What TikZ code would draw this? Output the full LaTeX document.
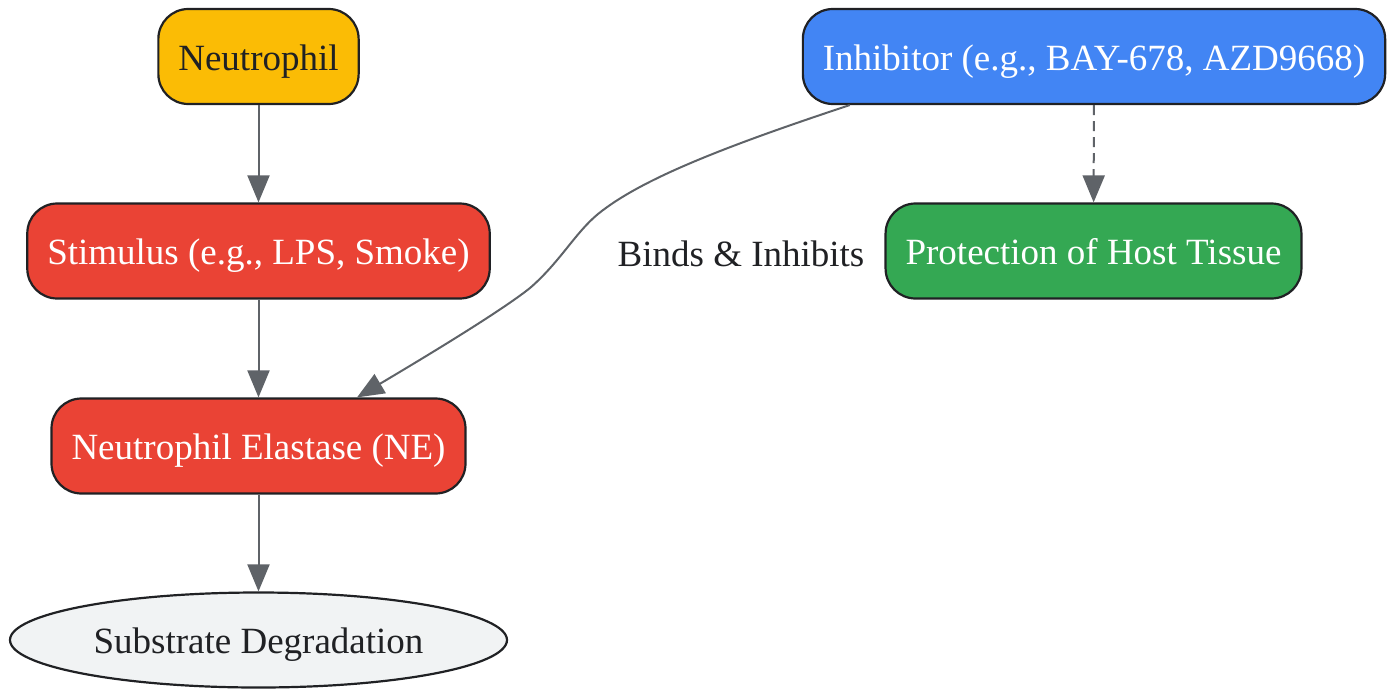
\documentclass[tikz,border=0pt]{standalone}
\usepackage{fontspec}
\setmainfont{Liberation Serif}
\usepackage{tikz}
\usetikzlibrary{shapes,arrows.meta,positioning,calc}
\definecolor{nodeyellow}{HTML}{FBBC05}
\definecolor{nodered}{HTML}{EA4335}
\definecolor{nodeblue}{HTML}{4285F4}
\definecolor{nodegreen}{HTML}{34A853}
\definecolor{nodegrey}{HTML}{F1F3F4}
\definecolor{darktext}{HTML}{202124}
\definecolor{edgegrey}{HTML}{5F6368}

\begin{document}
\begin{tikzpicture}[x=1pt,y=-1pt,
    txt/.style={font=\fontsize{37}{44}\selectfont,text height=35pt,text depth=8pt},
    box/.style={txt,draw=darktext,line width=2.2pt,rounded corners=30pt,minimum height=95pt,
      inner xsep=20pt,text=white},
    flow/.style={draw=edgegrey,line width=2pt,-{Triangle[length=27pt,width=22pt]}}]
  \useasboundingbox (0,0) rectangle (1388,688);

  % Left column
  \node[box,fill=nodeyellow,text=darktext] (neu) at (258.5,56.5) {Neutrophil};
  \node[box,fill=nodered] (stim) at (258.5,251) {Stimulus (e.g., LPS, Smoke)};
  \node[box,fill=nodered] (ne) at (258.5,446) {Neutrophil Elastase (NE)};
  \node[txt,ellipse,draw=darktext,line width=2.2pt,fill=nodegrey,text=darktext,inner sep=0pt,
    minimum width=497pt,minimum height=95pt] (sub) at (258.5,640) {Substrate Degradation};

  % Right column
  \node[box,fill=nodeblue] (inh) at (1094,56.5) {Inhibitor (e.g., BAY-678, AZD9668)};
  \node[box,fill=nodegreen] (prot) at (1093.5,251) {Protection of Host Tissue};

  % Edges
  \draw[flow] (neu) -- (stim);
  \draw[flow] (stim) -- (ne);
  \draw[flow] (ne) -- (sub);
  \draw[flow,dash pattern=on 10pt off 6pt] (inh) -- (prot);
  \draw[flow] ($(inh.south west)+(48,0)$) .. controls (720,148) and (640,180) .. (598,214)
    .. controls (575,233) and (560,262) .. (530,288)
    .. controls (500,312) and (420,360) .. ($(ne.north)+(98.5,0)$);
  \node[txt,text=darktext] (lbl) at (741,253) {Binds \& Inhibits};
\end{tikzpicture}
\end{document}
